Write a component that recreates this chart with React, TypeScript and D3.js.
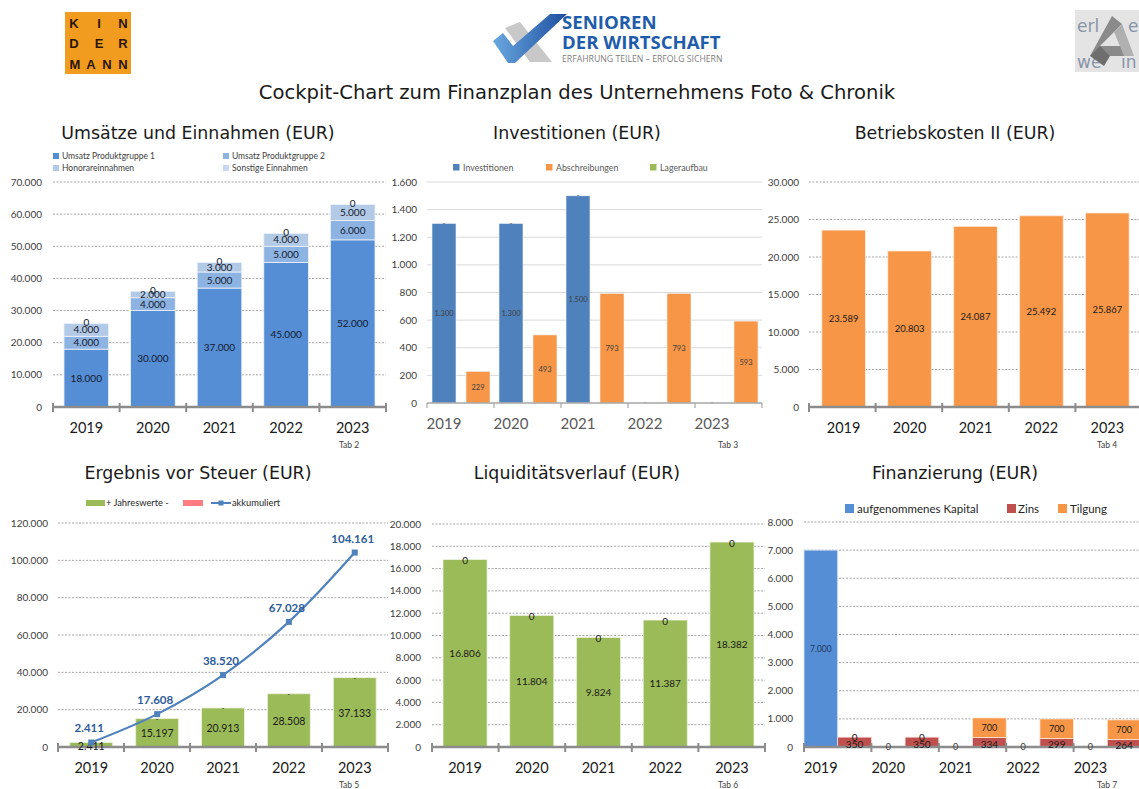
import React from 'react';
import * as d3 from 'd3';

// ---------- DATA ----------
const years = ['2019', '2020', '2021', '2022', '2023'];

// Umsätze und Einnahmen
const umsatzSeries = ['Umsatz Produktgruppe 1', 'Umsatz Produktgruppe 2', 'Honorareinnahmen', 'Sonstige Einnahmen'];
const umsatzPG1 = [18000, 30000, 37000, 45000, 52000];
const umsatzPG2 = [4000, 4000, 5000, 5000, 6000];
const honorar = [4000, 2000, 3000, 4000, 5000];
const sonstige = [0, 0, 0, 0, 0];
const umsatzTicks = [0, 10000, 20000, 30000, 40000, 50000, 60000, 70000];

// Investitionen
const investSeries = ['Investitionen', 'Abschreibungen', 'Lageraufbau'];
const investitionen = [1300, 1300, 1500, 0, 0];
const abschreibungen = [229, 493, 793, 793, 593];
const lageraufbau = [0, 0, 0, 0, 0];
const investTicks = [0, 200, 400, 600, 800, 1000, 1200, 1400, 1600];

// Betriebskosten II
const betriebskosten = [23589, 20803, 24087, 25492, 25867];
const betriebTicks = [0, 5000, 10000, 15000, 20000, 25000, 30000];

// Ergebnis vor Steuer
const ergebnisLegend = ['+ Jahreswerte -', 'akkumuliert'];
const jahreswerte = [2411, 15197, 20913, 28508, 37133];
const akkumuliert = [2411, 17608, 38520, 67028, 104161];
const ergebnisTicks = [0, 20000, 40000, 60000, 80000, 100000, 120000];

// Liquiditätsverlauf
const liquiditaet = [16806, 11804, 9824, 11387, 18382];
const liquiditaetTicks = [0, 2000, 4000, 6000, 8000, 10000, 12000, 14000, 16000, 18000, 20000];

// Finanzierung
const finSeries = ['aufgenommenes Kapital', 'Zins', 'Tilgung'];
const kapital = [7000, 0, 0, 0, 0];
const zins = [350, 350, 334, 299, 264];
const tilgung = [0, 0, 700, 700, 700];
const finTicks = [0, 1000, 2000, 3000, 4000, 5000, 6000, 7000, 8000];

// ---------- STYLE ----------
const FONT = "Lato, 'Open Sans', sans-serif";
const TFONT = "'DejaVu Sans', Verdana, sans-serif";
const fmt = d3.formatLocale({ decimal: ',', thousands: '.', grouping: [3], currency: ['', ''] }).format(',.0f');

const umsatzColors = ['#558ed5', '#8db3e2', '#b3cae6', '#c6d9f1'];
const investColors = ['#4f81bd', '#f79646', '#9bbb59'];
const orange = '#f79646';
const green = '#9bbb59';
const finColors = ['#558ed5', '#c0504d', '#f79646'];

type Lin = d3.ScaleLinear<number, number>;
type Band = d3.ScaleBand<string>;

function Title({ x, y, text }: { x: number; y: number; text: string }) {
  return <text x={x} y={y} textAnchor="middle" fontFamily={TFONT} fontSize={17.4} fill="#1a1a1a">{text}</text>;
}

function YGrid({ y, ticks, x0, x1, labelX, solid }: { y: Lin; ticks: number[]; x0: number; x1: number; labelX: number; solid?: boolean }) {
  return (
    <g>
      {ticks.map((t) => (
        <g key={t}>
          {t !== 0 && (
            <line x1={x0} x2={x1} y1={y(t)} y2={y(t)}
              stroke={solid ? '#d9d9d9' : '#a6a6a6'} strokeWidth={1}
              strokeDasharray={solid ? undefined : '2,1.5'} />
          )}
          <text x={labelX} y={y(t)} dy="0.35em" textAnchor="end" fontFamily={FONT} fontSize={10} fill="#404040">{fmt(t)}</text>
        </g>
      ))}
    </g>
  );
}

function ThickAxis({ x, y0 }: { x: Band; y0: number }) {
  const [r0, r1] = x.range();
  const n = x.domain().length;
  const bounds = d3.range(n + 1).map((i) => r0 + (i * (r1 - r0)) / n);
  return (
    <g>
      <line x1={r0} x2={r1} y1={y0} y2={y0} stroke="#8c8c8c" strokeWidth={2.5} />
      {bounds.map((b, i) => (
        <line key={i} x1={b} x2={b} y1={y0 - 4} y2={y0 + 5} stroke="#8c8c8c" strokeWidth={2} />
      ))}
    </g>
  );
}

function YearLabels({ xs, y, color, size }: { xs: number[]; y: number; color?: string; size?: number }) {
  return (
    <g>
      {years.map((yr, i) => (
        <text key={yr} x={xs[i]} y={y} textAnchor="middle" fontFamily={FONT} fontSize={size || 14.5} fill={color || '#1a1a1a'}>{yr}</text>
      ))}
    </g>
  );
}

function Tab({ x, y, text }: { x: number; y: number; text: string }) {
  return <text x={x} y={y} textAnchor="middle" fontFamily={FONT} fontSize={8.5} fill="#404040">{text}</text>;
}

// ---------- LOGOS ----------
function Logos() {
  return (
    <g>
      {/* Kindermann */}
      <rect x={65} y={12} width={66} height={62} fill="#f29c1f" />
      <g fontFamily="'Liberation Sans', Arial, sans-serif" fontWeight="bold" fontSize={13} fill="#2a1508" textAnchor="middle">
        <text x={74} y={28}>K</text><text x={99} y={28}>I</text><text x={123} y={28}>N</text>
        <text x={74} y={48}>D</text><text x={99} y={48}>E</text><text x={123} y={48}>R</text>
        <text x={75} y={69}>M</text><text x={91} y={69}>A</text><text x={107} y={69}>N</text><text x={123} y={69}>N</text>
      </g>
      {/* Senioren der Wirtschaft */}
      <defs>
        <linearGradient id="sdwGrad" x1="0" x2="1" y1="0" y2="0">
          <stop offset="0" stopColor="#6aa8e0" />
          <stop offset="1" stopColor="#1d4f9f" />
        </linearGradient>
      </defs>
      <polygon points="505,28 520,22 552,62 530,62" fill="#c8c8c8" />
      <polygon points="493,41 503,33 513,46 550,14 567,14 515,63 508,63" fill="url(#sdwGrad)" />
      <g fontFamily="'Open Sans', 'DejaVu Sans', sans-serif" fontWeight="bold" fill="#1f5cab">
        <text x={562} y={29} fontSize={18.6}>SENIOREN</text>
        <text x={562} y={49} fontSize={18.6}>DER WIRTSCHAFT</text>
      </g>
      <text x={562} y={62} fontFamily="'Open Sans', sans-serif" fontSize={8.7} fill="#808080">ERFAHRUNG TEILEN – ERFOLG SICHERN</text>
      {/* right logo */}
      <rect x={1075} y={10} width={64} height={62} fill="#e4e4e4" />
      <g fontFamily="'DejaVu Sans', sans-serif" fontSize={17} fill="#8795a8">
        <text x={1077} y={32}>erl</text>
        <text x={1128} y={32}>e</text>
        <text x={1077} y={68}>we</text>
        <text x={1121} y={68}>in</text>
      </g>
      <polygon points="1112,16 1122,24 1100,46 1128,46 1124,56 1090,56" fill="#8a8a8a" />
      <polygon points="1122,24 1134,56 1124,56 1114,32" fill="#b0b0b0" />
      <polygon points="1100,46 1090,56 1104,66 1110,56" fill="#6e6e6e" />
    </g>
  );
}

// ---------- PANELS ----------
function Umsatz() {
  const x = d3.scaleBand<string>().domain(years).range([53, 386]).paddingInner(0.33).paddingOuter(0.165);
  const y = d3.scaleLinear().domain([0, 70000]).range([407, 182]);
  const keys = ['pg1', 'pg2', 'hon', 'son'];
  const rows = years.map((yr, i) => ({ pg1: umsatzPG1[i], pg2: umsatzPG2[i], hon: honorar[i], son: sonstige[i] }));
  const series = d3.stack<any>().keys(keys)(rows);
  const legendPos = [[53, 153], [223, 153], [53, 165], [223, 165]];
  return (
    <g>
      <Title x={198} y={139} text="Umsätze und Einnahmen (EUR)" />
      {umsatzSeries.map((s, i) => (
        <g key={s}>
          <rect x={legendPos[i][0]} y={legendPos[i][1]} width={6} height={6} fill={umsatzColors[i]} />
          <text x={legendPos[i][0] + 9} y={legendPos[i][1] + 6} fontFamily={FONT} fontSize={8.5} fill="#404040">{s}</text>
        </g>
      ))}
      <YGrid y={y} ticks={umsatzTicks} x0={53} x1={386} labelX={42} />
      {series.map((s, si) =>
        s.map((d, i) => (
          <rect key={si + '-' + i} x={x(years[i])} y={y(d[1])} width={x.bandwidth()} height={y(d[0]) - y(d[1])}
            fill={umsatzColors[si]} stroke="#eef3fa" strokeWidth={0.8} />
        ))
      )}
      {series.map((s, si) =>
        s.map((d, i) => {
          const v = d[1] - d[0];
          const cy = v > 0 ? (y(d[0]) + y(d[1])) / 2 : y(d[1]) - 1;
          return (
            <text key={'l' + si + '-' + i} x={x(years[i])! + x.bandwidth() / 2} y={cy} dy="0.35em" textAnchor="middle"
              fontFamily={FONT} fontSize={10} fill="#141a2e">{fmt(v)}</text>
          );
        })
      )}
      <ThickAxis x={x} y0={407} />
      <YearLabels xs={years.map((yr) => x(yr)! + x.bandwidth() / 2)} y={433} />
      <Tab x={349} y={448} text="Tab 2" />
    </g>
  );
}

function Invest() {
  const x = d3.scaleBand<string>().domain(years).range([427, 762]);
  const sub = d3.scaleBand<string>().domain(investSeries).range([0, 102]).paddingInner(0.294).paddingOuter(0.147);
  const y = d3.scaleLinear().domain([0, 1600]).range([403, 182]);
  const vals = [investitionen, abschreibungen, lageraufbau];
  const legendX = [453, 546, 650];
  return (
    <g>
      <Title x={577} y={139} text="Investitionen (EUR)" />
      {investSeries.map((s, i) => (
        <g key={s}>
          <rect x={legendX[i]} y={164} width={6.5} height={6.5} fill={investColors[i]} />
          <text x={legendX[i] + 10} y={170.5} fontFamily={FONT} fontSize={8.8} fill="#595959">{s}</text>
        </g>
      ))}
      <YGrid y={y} ticks={investTicks} x0={427} x1={762} labelX={417} solid />
      {vals.map((arr, si) =>
        arr.map((v, i) =>
          v > 0 ? (
            <rect key={si + '-' + i} x={x(years[i])! + sub(investSeries[si])!} y={y(v)} width={sub.bandwidth()} height={y(0) - y(v)}
              fill={investColors[si]} stroke="#f3f3f3" strokeWidth={0.6} />
          ) : null
        )
      )}
      {vals.slice(0, 2).map((arr, si) =>
        arr.map((v, i) =>
          v > 0 ? (
            <text key={'l' + si + '-' + i} x={x(years[i])! + sub(investSeries[si])! + sub.bandwidth() / 2} y={(y(0) + y(v)) / 2}
              dy="0.35em" textAnchor="middle" fontFamily={FONT} fontSize={7.5} fill="#404040">{fmt(v)}</text>
          ) : null
        )
      )}
      {investitionen.map((v, i) => (
        <text key={'d' + i} x={x(years[i])! + sub('Investitionen')! + sub.bandwidth() / 2} y={y(v)} dy="0.3em" textAnchor="middle"
          fontFamily={FONT} fontSize={7} fill="#404040">-</text>
      ))}
      <line x1={427} x2={762} y1={403} y2={403} stroke="#a6a6a6" strokeWidth={1.5} />
      {d3.range(6).map((i) => {
        const b = 427 + (i * (762 - 427)) / 5;
        return <line key={i} x1={b} x2={b} y1={403} y2={408} stroke="#a6a6a6" strokeWidth={1.2} />;
      })}
      <YearLabels xs={years.map((yr) => x(yr)! + sub('Investitionen')! + sub.bandwidth() / 2)} y={429} color="#595959" size={15} />
      <Tab x={728} y={448} text="Tab 3" />
    </g>
  );
}

function Betrieb() {
  const x = d3.scaleBand<string>().domain(years).range([809, 1142]).paddingInner(0.34).paddingOuter(0.195);
  const y = d3.scaleLinear().domain([0, 30000]).range([407, 182]);
  return (
    <g>
      <Title x={955} y={139} text="Betriebskosten II (EUR)" />
      <YGrid y={y} ticks={betriebTicks} x0={809} x1={1142} labelX={799} />
      {betriebskosten.map((v, i) => (
        <rect key={i} x={x(years[i])} y={y(v)} width={x.bandwidth()} height={y(0) - y(v)} fill={orange} stroke="#fde9d9" strokeWidth={0.8} />
      ))}
      {betriebskosten.map((v, i) => (
        <text key={'l' + i} x={x(years[i])! + x.bandwidth() / 2} y={(y(0) + y(v)) / 2} dy="0.35em" textAnchor="middle"
          fontFamily={FONT} fontSize={9.5} fill="#1a1a1a">{fmt(v)}</text>
      ))}
      <ThickAxis x={x} y0={407} />
      <YearLabels xs={years.map((yr) => x(yr)! + x.bandwidth() / 2)} y={433} />
      <Tab x={1107} y={448} text="Tab 4" />
    </g>
  );
}

function Ergebnis() {
  const x = d3.scaleBand<string>().domain(years).range([58, 388]).paddingInner(0.35).paddingOuter(0.18);
  const y = d3.scaleLinear().domain([0, 120000]).range([747, 523]);
  const cx = (i: number) => x(years[i])! + x.bandwidth() / 2;
  const line = d3.line<number>().x((_, i) => cx(i)).y((d) => y(d)).curve(d3.curveCatmullRom.alpha(0.5));
  return (
    <g>
      <Title x={198} y={479} text="Ergebnis vor Steuer (EUR)" />
      <rect x={86} y={500} width={19} height={6} fill={green} />
      <text x={106} y={506} fontFamily={FONT} fontSize={9.3} fill="#262626">{ergebnisLegend[0]}</text>
      <rect x={183} y={500} width={20} height={6} fill="#ff7c80" />
      <line x1={211} x2={231} y1={503} y2={503} stroke="#4f81bd" strokeWidth={2} />
      <rect x={218.5} y={500.5} width={5} height={5} fill="#4f81bd" />
      <text x={232} y={506} fontFamily={FONT} fontSize={9.3} fill="#262626">{ergebnisLegend[1]}</text>
      <YGrid y={y} ticks={ergebnisTicks} x0={58} x1={388} labelX={48} />
      {jahreswerte.map((v, i) => (
        <rect key={i} x={x(years[i])} y={y(v)} width={x.bandwidth()} height={y(0) - y(v)} fill={green} stroke="#ebf1de" strokeWidth={0.8} />
      ))}
      {jahreswerte.map((v, i) => (
        <text key={'d' + i} x={cx(i)} y={y(v) + 1} dy="0.3em" textAnchor="middle" fontFamily={FONT} fontSize={7} fill="#262626">-</text>
      ))}
      <ThickAxis x={x} y0={747} />
      {jahreswerte.map((v, i) => (
        <text key={'l' + i} x={cx(i)} y={(y(0) + y(v)) / 2 + (i === 0 ? 2 : 1)} dy="0.35em" textAnchor="middle"
          fontFamily={FONT} fontSize={10.5} fill="#1a1a1a">{fmt(v)}</text>
      ))}
      <path d={line(akkumuliert) || ''} fill="none" stroke="#4f81bd" strokeWidth={2.2} />
      {akkumuliert.map((v, i) => (
        <rect key={'m' + i} x={cx(i) - 3} y={y(v) - 3} width={6} height={6} fill="#4f81bd" />
      ))}
      {akkumuliert.map((v, i) => (
        <text key={'a' + i} x={cx(i) - 2} y={y(v) - 10} textAnchor="middle" fontFamily={FONT} fontWeight="bold" fontSize={11.5} fill="#2d5c9a">{fmt(v)}</text>
      ))}
      <YearLabels xs={years.map((_, i) => cx(i))} y={773} />
      <Tab x={349} y={788} text="Tab 5" />
    </g>
  );
}

function Liquiditaet() {
  const x = d3.scaleBand<string>().domain(years).range([432, 765]).paddingInner(0.34).paddingOuter(0.165);
  const y = d3.scaleLinear().domain([0, 20000]).range([747, 524]);
  const cx = (i: number) => x(years[i])! + x.bandwidth() / 2;
  return (
    <g>
      <Title x={577} y={479} text="Liquiditätsverlauf (EUR)" />
      <YGrid y={y} ticks={liquiditaetTicks} x0={432} x1={765} labelX={421} />
      {liquiditaet.map((v, i) => (
        <rect key={i} x={x(years[i])} y={y(v)} width={x.bandwidth()} height={y(0) - y(v)} fill={green} stroke="#ebf1de" strokeWidth={0.8} />
      ))}
      {liquiditaet.map((v, i) => (
        <text key={'l' + i} x={cx(i)} y={(y(0) + y(v)) / 2} dy="0.35em" textAnchor="middle" fontFamily={FONT} fontSize={10} fill="#1a1a1a">{fmt(v)}</text>
      ))}
      {liquiditaet.map((v, i) => (
        <text key={'z' + i} x={cx(i)} y={y(v) + 1} dy="0.35em" textAnchor="middle" fontFamily={FONT} fontSize={10} fill="#1a1a1a">0</text>
      ))}
      <ThickAxis x={x} y0={747} />
      <YearLabels xs={years.map((_, i) => cx(i))} y={773} />
      <Tab x={728} y={788} text="Tab 6" />
    </g>
  );
}

function Finanz() {
  const x = d3.scaleBand<string>().domain(years).range([804, 1141]);
  const sub = d3.scaleBand<string>().domain(['k', 's']).range([0, x.bandwidth()]);
  const y = d3.scaleLinear().domain([0, 8000]).range([747, 522]);
  const legend = [[845, 857], [1007, 1018], [1058, 1070]];
  const kx = (i: number) => x(years[i])! + sub('k')!;
  const sx = (i: number) => x(years[i])! + sub('s')!;
  const w = sub.bandwidth();
  return (
    <g>
      <Title x={955} y={479} text="Finanzierung (EUR)" />
      {finSeries.map((s, i) => (
        <g key={s}>
          <rect x={legend[i][0]} y={504} width={9} height={9} fill={finColors[i]} />
          <text x={legend[i][1]} y={513} fontFamily={FONT} fontSize={11.5} fill="#262626">{s}</text>
        </g>
      ))}
      <YGrid y={y} ticks={finTicks} x0={804} x1={1141} labelX={793} />
      {kapital.map((v, i) =>
        v > 0 ? <rect key={'k' + i} x={kx(i)} y={y(v)} width={w} height={y(0) - y(v)} fill={finColors[0]} stroke="#dbe5f1" strokeWidth={0.8} /> : null
      )}
      {zins.map((v, i) => (
        <rect key={'z' + i} x={sx(i)} y={y(v)} width={w} height={y(0) - y(v)} fill={finColors[1]} stroke="#f2dcdb" strokeWidth={0.8} />
      ))}
      {tilgung.map((v, i) =>
        v > 0 ? <rect key={'t' + i} x={sx(i)} y={y(zins[i] + v)} width={w} height={y(zins[i]) - y(zins[i] + v)} fill={finColors[2]} stroke="#fde9d9" strokeWidth={0.8} /> : null
      )}
      <ThickAxis x={x} y0={747} />
      {kapital.map((v, i) => (
        <text key={'kl' + i} x={kx(i) + w / 2} y={v > 0 ? (y(0) + y(v)) / 2 : y(0)} dy="0.35em" textAnchor="middle" fontFamily={FONT}
          fontSize={v > 0 ? 8.5 : 9} fill={v > 0 ? '#1f3864' : '#404040'}>{fmt(v)}</text>
      ))}
      {zins.map((v, i) => (
        <text key={'zl' + i} x={sx(i) + w / 2} y={(y(0) + y(v)) / 2 + 2} dy="0.35em" textAnchor="middle" fontFamily={FONT} fontSize={10} fill="#1a1a1a">{fmt(v)}</text>
      ))}
      {tilgung.map((v, i) => (
        <text key={'tl' + i} x={sx(i) + w / 2} y={v > 0 ? (y(zins[i]) + y(zins[i] + v)) / 2 : y(zins[i])} dy="0.35em" textAnchor="middle"
          fontFamily={FONT} fontSize={v > 0 ? 9 : 10} fill="#1a1a1a">{fmt(v)}</text>
      ))}
      <YearLabels xs={years.map((_, i) => kx(i) + w / 2)} y={773} />
      <Tab x={1107} y={788} text="Tab 7" />
    </g>
  );
}

export default function App() {
  return (
    <div style={{ position: 'absolute', left: 0, top: 0 }}>
      <svg width={1139} height={789} style={{ display: 'block', background: '#ffffff' }}>
        <Logos />
        <text x={577} y={99} textAnchor="middle" fontFamily={TFONT} fontSize={19.6} fill="#1a1a1a">
          Cockpit-Chart zum Finanzplan des Unternehmens Foto &amp; Chronik
        </text>
        <Umsatz />
        <Invest />
        <Betrieb />
        <Ergebnis />
        <Liquiditaet />
        <Finanz />
      </svg>
    </div>
  );
}
